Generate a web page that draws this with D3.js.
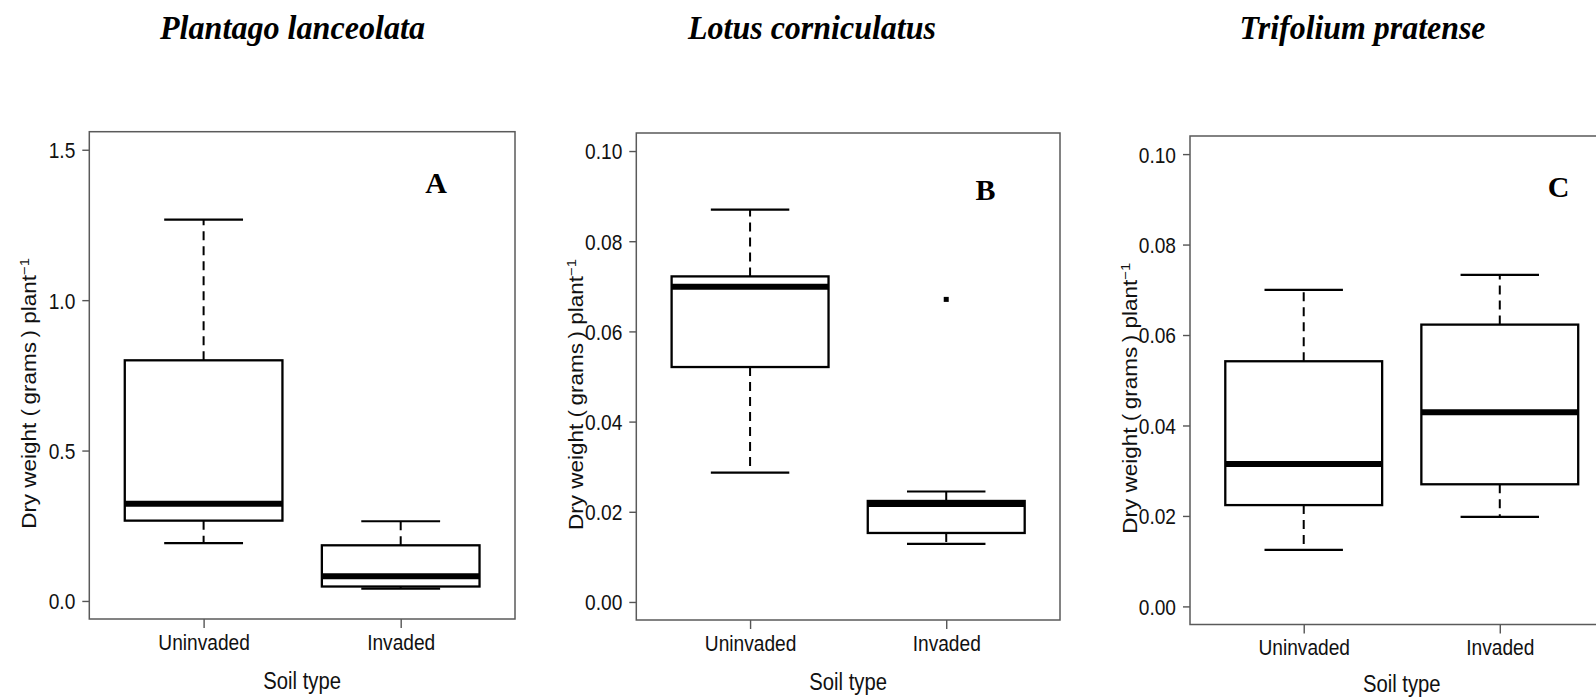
<!DOCTYPE html>
<html>
<head>
<meta charset="utf-8">
<script src="https://cdn.jsdelivr.net/npm/d3@7"></script>
<style>
  html, body { margin: 0; padding: 0; background: #fff; }
  svg { display: block; }
  text { font-family: "Liberation Sans", Arial, sans-serif; fill: #111; }
</style>
</head>
<body>
<svg id="chart" width="1596" height="697"></svg>
<script>
// Soil type groups on the x axis
const categories = ["Uninvaded", "Invaded"];

// Species shown in each panel, and the panel tags
const species = ["Plantago lanceolata", "Lotus corniculatus", "Trifolium pratense"];
const panelLetters = ["A", "B", "C"];

// Box-plot summaries per panel, one value per soil type [Uninvaded, Invaded]
const whiskerLow  = [[0.192, 0.041], [0.0287, 0.0129], [0.0125, 0.0198]];
const lowerQuart  = [[0.267, 0.048], [0.0521, 0.0153], [0.0224, 0.0270]];
const medians     = [[0.323, 0.082], [0.0699, 0.0217], [0.0315, 0.0429]];
const upperQuart  = [[0.800, 0.185], [0.0722, 0.0224], [0.0542, 0.0623]];
const whiskerHigh = [[1.268, 0.265], [0.0870, 0.0245], [0.0700, 0.0733]];
const outliers    = [[[], []], [[], [0.0671]], [[], []]];

// Axis limits and tick labels per panel
const yLimits = [[0, 1.5], [0, 0.1], [0, 0.1]];
const yTicks = [
  [0, 0.5, 1.0, 1.5],
  [0, 0.02, 0.04, 0.06, 0.08, 0.10],
  [0, 0.02, 0.04, 0.06, 0.08, 0.10]
];
const yTickLabels = [
  ["0.0", "0.5", "1.0", "1.5"],
  ["0.00", "0.02", "0.04", "0.06", "0.08", "0.10"],
  ["0.00", "0.02", "0.04", "0.06", "0.08", "0.10"]
];

const xTitle = "Soil type";

// Page layout: plot frames, species title boxes and tag anchors (data units)
const layout = [
  { left: 89.3,  right: 515,    top: 131.7, bottom: 619,   titleX: 160,    titleW: 265, tagX: 2.18, tagY: 1.39,   xTitleGap: 69.5 },
  { left: 636.3, right: 1060,   top: 133,   bottom: 620,   titleX: 688,    titleW: 248, tagX: 2.20, tagY: 0.0915, xTitleGap: 69.5 },
  { left: 1190,  right: 1613.5, top: 136,   bottom: 624.5, titleX: 1239.5, titleW: 246, tagX: 2.30, tagY: 0.0928, xTitleGap: 67 }
];
const titleBaseline = 38.5;
const squeeze = 0.87; // horizontal compression of the lettering

const svg = d3.select("#chart");

function compress(sel, factor) {
  sel.each(function () {
    const len = this.getComputedTextLength();
    d3.select(this).attr("textLength", len * factor).attr("lengthAdjust", "spacingAndGlyphs");
  });
}

species.forEach((name, p) => {
  const L = layout[p];
  const [lo, hi] = yLimits[p];
  const pad = (hi - lo) * 0.04;
  const y = d3.scaleLinear().domain([lo - pad, hi + pad]).range([L.bottom, L.top]);
  const x = d3.scaleLinear().domain([0.42, 2.58]).range([L.left, L.right]);
  const unit = x(2) - x(1);
  const boxHalf = unit * 0.4;
  const capHalf = unit * 0.2;

  const g = svg.append("g");

  // species title
  const t = g.append("text")
    .attr("x", L.titleX).attr("y", titleBaseline)
    .style("font-family", "'Liberation Serif', 'Times New Roman', serif")
    .style("font-style", "italic").style("font-weight", "bold")
    .style("font-size", "34px").style("fill", "#000")
    .text(name);
  t.attr("textLength", L.titleW).attr("lengthAdjust", "spacingAndGlyphs");

  // y axis
  const yAxis = d3.axisLeft(y)
    .tickValues(yTicks[p])
    .tickFormat((d, i) => yTickLabels[p][i])
    .tickSize(7).tickPadding(7).tickSizeOuter(0);
  const ya = g.append("g").attr("transform", `translate(${L.left},0)`).call(yAxis);
  ya.select(".domain").remove();
  ya.selectAll("line").attr("stroke", "#555").attr("stroke-width", 1.4);
  ya.selectAll("text").style("font-size", "22px").style("font-family", "'Liberation Sans', Arial, sans-serif")
    .attr("fill", "#111").attr("dy", "0.36em");
  compress(ya.selectAll("text"), squeeze);

  // x axis
  const xAxis = d3.axisBottom(x)
    .tickValues([1, 2])
    .tickFormat((d, i) => categories[i])
    .tickSize(9).tickPadding(6).tickSizeOuter(0);
  const xa = g.append("g").attr("transform", `translate(0,${L.bottom})`).call(xAxis);
  xa.select(".domain").remove();
  xa.selectAll("line").attr("stroke", "#555").attr("stroke-width", 1.4);
  xa.selectAll("text").style("font-size", "22px").style("font-family", "'Liberation Sans', Arial, sans-serif")
    .attr("fill", "#111");
  compress(xa.selectAll("text"), squeeze);

  // x title
  const xt = g.append("text")
    .attr("x", (x(1) + x(2)) / 2).attr("y", L.bottom + L.xTitleGap)
    .attr("text-anchor", "middle").style("font-size", "23px")
    .text(xTitle);
  compress(xt, 0.88);

  // y title, rotated, with plant⁻¹ superscript
  const yt = g.append("text")
    .attr("transform", `translate(${L.left - 53},${(L.top + L.bottom) / 2 + 18}) scale(0.9,1) rotate(-90)`)
    .attr("text-anchor", "middle").style("font-size", "22.5px");
  yt.append("tspan").text("Dry weight (\u2009grams\u2009) plant");
  yt.append("tspan").attr("dy", "-0.55em").style("font-size", "15px").text("\u22121");

  // plot frame
  g.append("rect")
    .attr("x", L.left).attr("y", L.top)
    .attr("width", L.right - L.left).attr("height", L.bottom - L.top)
    .attr("fill", "none").attr("stroke", "#5a5a5a").attr("stroke-width", 1.5);

  // boxes
  categories.forEach((c, i) => {
    const cx = x(i + 1);
    const bx = g.append("g");
    // dashed whiskers
    bx.append("line").attr("x1", cx).attr("x2", cx)
      .attr("y1", y(upperQuart[p][i])).attr("y2", y(whiskerHigh[p][i]))
      .attr("stroke", "#000").attr("stroke-width", 2).attr("stroke-dasharray", "9,6");
    bx.append("line").attr("x1", cx).attr("x2", cx)
      .attr("y1", y(lowerQuart[p][i])).attr("y2", y(whiskerLow[p][i]))
      .attr("stroke", "#000").attr("stroke-width", 2).attr("stroke-dasharray", "9,6");
    // whisker caps
    [whiskerHigh[p][i], whiskerLow[p][i]].forEach(v => {
      bx.append("line").attr("x1", cx - capHalf).attr("x2", cx + capHalf)
        .attr("y1", y(v)).attr("y2", y(v))
        .attr("stroke", "#000").attr("stroke-width", 2.2);
    });
    // box
    bx.append("rect")
      .attr("x", cx - boxHalf).attr("width", boxHalf * 2)
      .attr("y", y(upperQuart[p][i])).attr("height", y(lowerQuart[p][i]) - y(upperQuart[p][i]))
      .attr("fill", "#fff").attr("stroke", "#000").attr("stroke-width", 2.3);
    // median
    bx.append("line").attr("x1", cx - boxHalf).attr("x2", cx + boxHalf)
      .attr("y1", y(medians[p][i])).attr("y2", y(medians[p][i]))
      .attr("stroke", "#000").attr("stroke-width", 6);
    // outliers
    outliers[p][i].forEach(v => {
      bx.append("rect").attr("x", cx - 2.5).attr("y", y(v) - 2.5)
        .attr("width", 5).attr("height", 5).attr("fill", "#000");
    });
  });

  // panel tag
  g.append("text")
    .attr("x", x(L.tagX)).attr("y", y(L.tagY))
    .attr("text-anchor", "middle").attr("dy", "0.35em")
    .style("font-family", "'Liberation Serif', 'Times New Roman', serif")
    .style("font-weight", "bold").style("font-size", "30px").style("fill", "#000")
    .text(panelLetters[p]);
});
</script>
</body>
</html>
